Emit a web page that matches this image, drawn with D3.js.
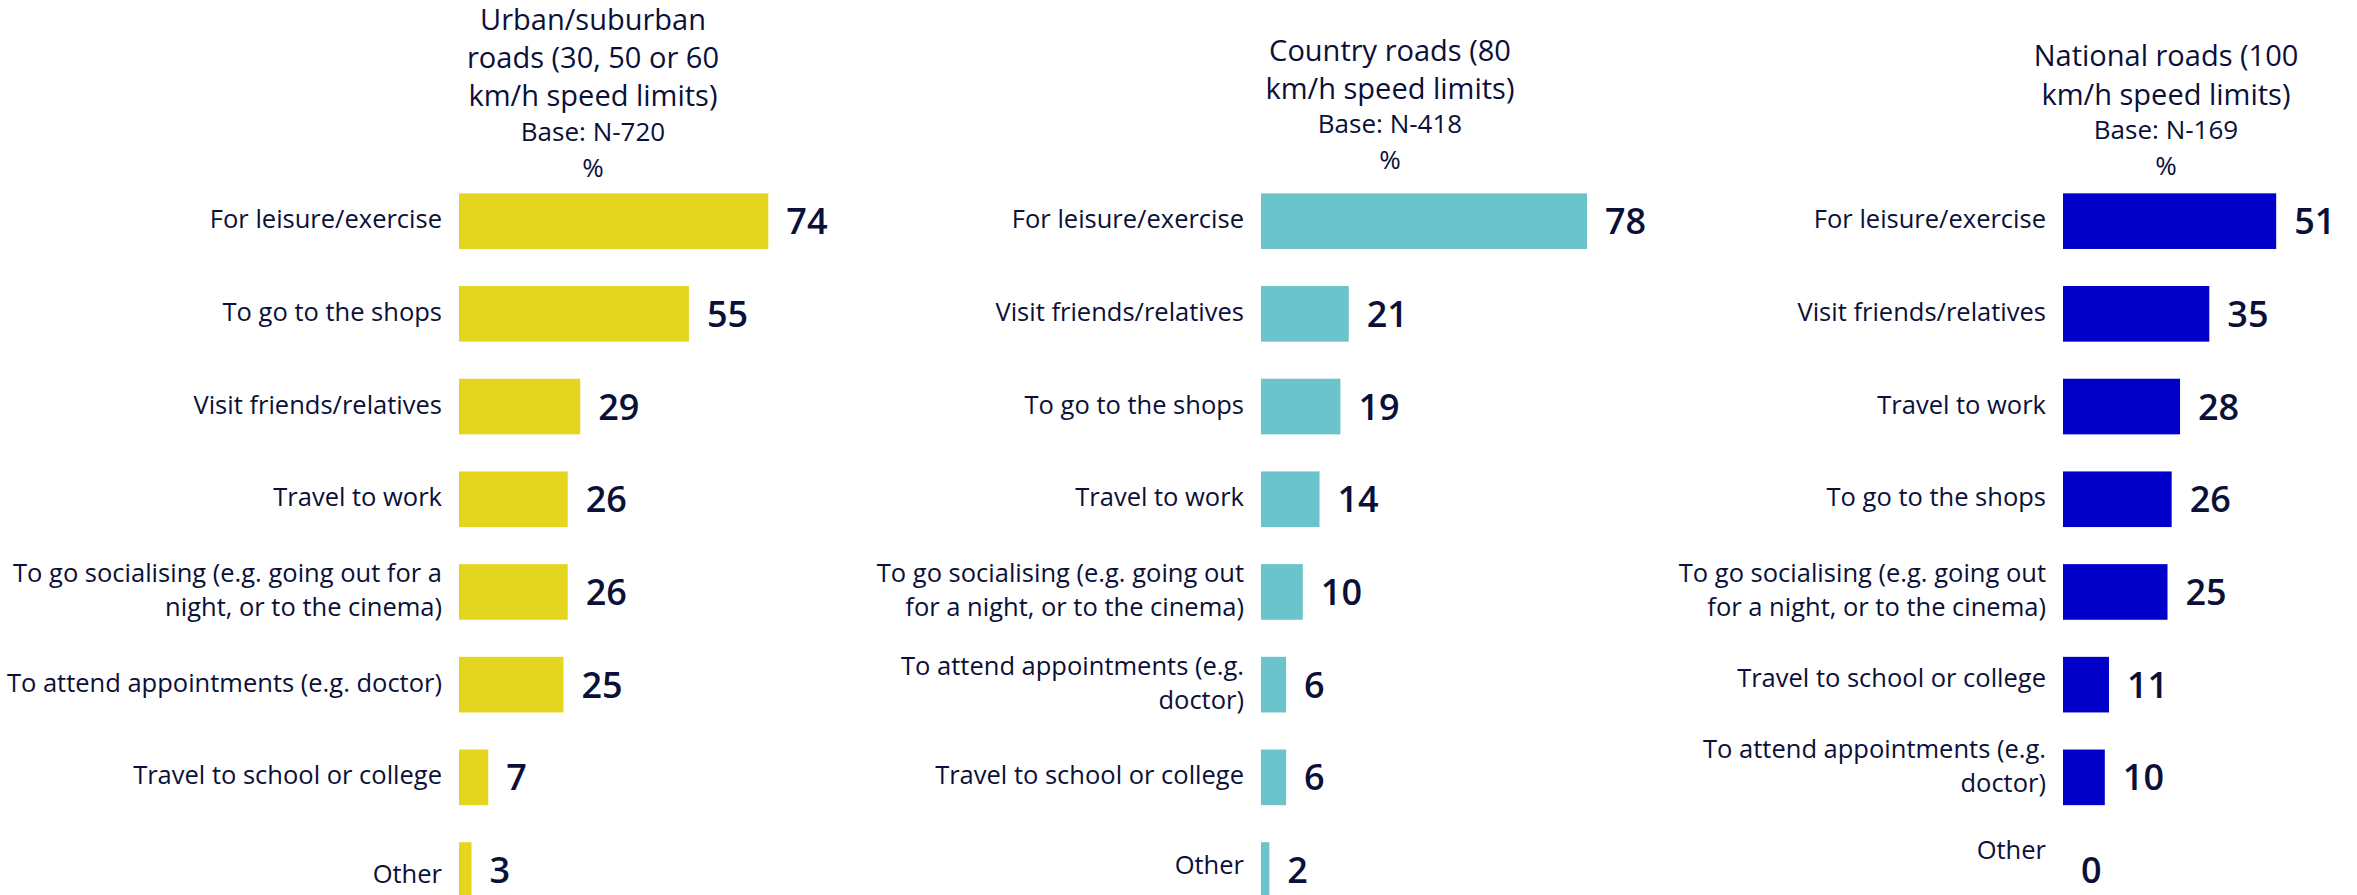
<!DOCTYPE html>
<html>
<head>
<meta charset="utf-8">
<script src="https://cdn.jsdelivr.net/npm/d3@7"></script>
<style>
  html, body { margin: 0; padding: 0; background: #ffffff; }
  svg { display: block; }
  text { font-family: "Open Sans", "Liberation Sans", sans-serif; fill: #0b1038; }
</style>
</head>
<body>
<svg id="chart" width="2357" height="895"></svg>
<script>
// ---- Data -------------------------------------------------------------
// Line breaks ("\n") follow how each panel wraps its row labels.
const urbanTitle = ["Urban/suburban", "roads (30, 50 or 60", "km/h speed limits)"];
const urbanBase = "Base: N-720";
const urbanCategories = [
  "For leisure/exercise",
  "To go to the shops",
  "Visit friends/relatives",
  "Travel to work",
  "To go socialising (e.g. going out for a\nnight, or to the cinema)",
  "To attend appointments (e.g. doctor)",
  "Travel to school or college",
  "Other"
];
const urbanValues = [74, 55, 29, 26, 26, 25, 7, 3];

const countryTitle = ["Country roads (80", "km/h speed limits)"];
const countryBase = "Base: N-418";
const countryCategories = [
  "For leisure/exercise",
  "Visit friends/relatives",
  "To go to the shops",
  "Travel to work",
  "To go socialising (e.g. going out\nfor a night, or to the cinema)",
  "To attend appointments (e.g.\ndoctor)",
  "Travel to school or college",
  "Other"
];
const countryValues = [78, 21, 19, 14, 10, 6, 6, 2];

const nationalTitle = ["National roads (100", "km/h speed limits)"];
const nationalBase = "Base: N-169";
const nationalCategories = [
  "For leisure/exercise",
  "Visit friends/relatives",
  "Travel to work",
  "To go to the shops",
  "To go socialising (e.g. going out\nfor a night, or to the cinema)",
  "Travel to school or college",
  "To attend appointments (e.g.\ndoctor)",
  "Other"
];
const nationalValues = [51, 35, 28, 26, 25, 11, 10, 0];

const unitLabel = "%";

// ---- Layout -----------------------------------------------------------
const panels = [
  { title: urbanTitle, base: urbanBase, cats: urbanCategories, vals: urbanValues,
    color: "#e4d61f", x0: 459, titleX: 593, pctBaseline: 176.7,
    nudge: [0, 0, 0, 0, 0, 0, 0, 6] },
  { title: countryTitle, base: countryBase, cats: countryCategories, vals: countryValues,
    color: "#6bc3cb", x0: 1261, titleX: 1390, pctBaseline: 169.3,
    nudge: [0, 0, 0, 0, 0, 0, 0, -3] },
  { title: nationalTitle, base: nationalBase, cats: nationalCategories, vals: nationalValues,
    color: "#0000c8", x0: 2063, titleX: 2166, pctBaseline: 175,
    nudge: [0, 0, 0, 0, 0, -5, -9, -18] }
];

const catFont = 25.5, titleFont = 29, baseFont = 26, valueFont = 36;
const catLineGap = 34, titleLineGap = 38.3;

const svg = d3.select("#chart");

// shared value scale: percent -> bar length in px
const x = d3.scaleLinear().domain([0, 100]).range([0, 418]);

// shared row scale
const y = d3.scaleBand()
  .domain(d3.range(8))
  .range([174.8, 174.8 + 8 * 92.7])
  .paddingInner(0.4)
  .paddingOuter(0.2);

panels.forEach(p => {
  const g = svg.append("g").attr("transform", `translate(${p.x0},0)`);
  const tx = p.titleX - p.x0;

  // header block: title lines, base, unit, anchored from the bottom line up
  const head = g.append("g").attr("class", "header");
  head.append("text")
    .attr("x", tx).attr("y", p.pctBaseline)
    .attr("text-anchor", "middle")
    .style("font-size", baseFont + "px")
    .text(unitLabel);
  head.append("text")
    .attr("x", tx).attr("y", p.pctBaseline - 36)
    .attr("text-anchor", "middle")
    .style("font-size", baseFont + "px")
    .text(p.base);
  const nT = p.title.length;
  p.title.forEach((line, i) => {
    head.append("text")
      .attr("x", tx)
      .attr("y", p.pctBaseline - 70.5 - (nT - 1 - i) * titleLineGap)
      .attr("text-anchor", "middle")
      .style("font-size", titleFont + "px")
      .text(line);
  });

  // bars
  g.selectAll("rect.bar")
    .data(p.vals)
    .join("rect")
    .attr("class", "bar")
    .attr("x", 0)
    .attr("y", (d, i) => y(i))
    .attr("width", d => x(d))
    .attr("height", y.bandwidth())
    .attr("fill", p.color);

  // value labels
  g.selectAll("text.value")
    .data(p.vals)
    .join("text")
    .attr("class", "value")
    .attr("x", d => x(d) + 18)
    .attr("y", (d, i) => y(i) + y.bandwidth() / 2 + valueFont * 0.36)
    .style("font-size", valueFont + "px")
    .style("font-weight", 600)
    .text(d => d);

  // category labels (right aligned, multi-line centred on the bar)
  const cat = g.selectAll("text.cat")
    .data(p.cats)
    .join("text")
    .attr("class", "cat")
    .attr("text-anchor", "end")
    .style("font-size", catFont + "px");
  cat.each(function (d, i) {
    const lines = d.split("\n");
    const cy = y(i) + y.bandwidth() / 2 - 2 + p.nudge[i];
    const first = cy + catFont * 0.357 - (lines.length - 1) * catLineGap / 2;
    const t = d3.select(this);
    lines.forEach((ln, k) => {
      t.append("tspan")
        .attr("x", -17)
        .attr("y", first + k * catLineGap)
        .text(ln);
    });
  });
});
</script>
</body>
</html>
